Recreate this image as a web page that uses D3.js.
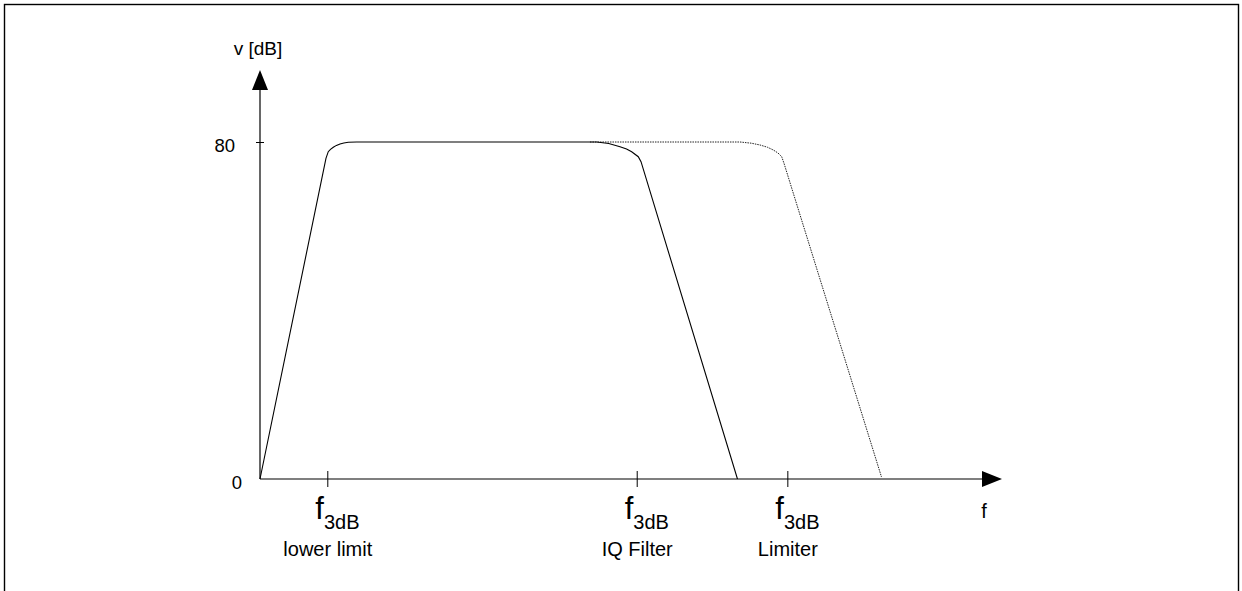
<!DOCTYPE html>
<html>
<head>
<meta charset="utf-8">
<script src="https://cdn.jsdelivr.net/npm/d3@7"></script>
<style>
  html, body { margin: 0; padding: 0; background: #fff; }
  svg { display: block; }
  text { font-family: "Liberation Sans", Arial, sans-serif; fill: #000; }
</style>
</head>
<body>
<div id="chart"></div>
<script>
// ---- data ----
const yTicks = [0, 80];
const xTicks = [9.07, 50.77, 71.07];
const xTickSubLabels = ["lower limit", "IQ Filter", "Limiter"];
const xAxisLabel = "f";
const yAxisLabel = "v [dB]";

// IQ filter response (solid)
const iqFreq = [0, 8.89, 9.20, 9.50, 9.88, 10.30, 10.78, 11.30, 11.90, 13.03, 45.38, 47.0, 48.52, 49.4, 50.09, 50.98, 51.35, 64.35];
const iqGain = [0, 76.13, 77.70, 78.25, 78.74, 79.20, 79.53, 79.78, 79.93, 80, 80, 79.65, 78.88, 78.35, 77.70, 76.51, 75.32, 0];

// Limiter response (dotted)
const limFreq = [44.47, 64.69, 66.2, 67.39, 68.4, 69.18, 69.8, 70.31, 70.62, 83.76];
const limGain = [80, 80, 79.72, 79.29, 78.75, 78.10, 77.40, 76.51, 74.94, 0.47];

const xAxisMax = 100;
const yAxisMax = 97.1;

// ---- layout ----
const W = 1242, H = 591;
const svg = d3.select("#chart").append("svg").attr("width", W).attr("height", H);

svg.append("rect").attr("x", 4.5).attr("y", 4.5).attr("width", 1234).attr("height", 620)
  .attr("fill", "none").attr("stroke", "#000").attr("stroke-width", 1.4);

const x = d3.scaleLinear().domain([0, xAxisMax]).range([260, 1002]);
const y = d3.scaleLinear().domain([0, 80]).range([479, 142]);

const g = svg.append("g");

// axis lines
const arrowLen = 20, arrowHalf = 8;
g.append("line").attr("x1", x(0)).attr("y1", y(0)).attr("x2", x(xAxisMax) - arrowLen).attr("y2", y(0))
  .attr("stroke", "#000").attr("stroke-width", 1.2);
g.append("line").attr("x1", x(0)).attr("y1", y(0)).attr("x2", x(0)).attr("y2", y(yAxisMax) + arrowLen)
  .attr("stroke", "#000").attr("stroke-width", 1.2);
// arrow heads
g.append("path").attr("d", `M${x(xAxisMax)},${y(0)} L${x(xAxisMax) - arrowLen},${y(0) - arrowHalf} L${x(xAxisMax) - arrowLen},${y(0) + arrowHalf} Z`).attr("fill", "#000");
g.append("path").attr("d", `M${x(0)},${y(yAxisMax)} L${x(0) - arrowHalf},${y(yAxisMax) + arrowLen} L${x(0) + arrowHalf},${y(yAxisMax) + arrowLen} Z`).attr("fill", "#000");

// y axis ticks
const yAxis = d3.axisLeft(y).tickValues(yTicks).tickSize(0).tickFormat(d3.format("d"));
const yg = g.append("g").attr("transform", `translate(${x(0)},0)`).call(yAxis);
yg.select(".domain").remove();
yg.selectAll(".tick line").attr("x1", d => d === 0 ? 0 : -4).attr("x2", d => d === 0 ? 0 : 4).attr("stroke", "#000");
yg.selectAll(".tick text")
  .attr("font-size", 18.5).attr("font-family", "Liberation Sans, Arial, sans-serif").attr("fill", "#000")
  .attr("x", d => d === 0 ? -18 : -25).attr("dy", "0.5em");

// x axis ticks
const xAxis = d3.axisBottom(x).tickValues(xTicks).tickSize(0).tickFormat("");
const xg = g.append("g").attr("transform", `translate(0,${y(0)})`).call(xAxis);
xg.select(".domain").remove();
xg.selectAll(".tick line").attr("y1", -8).attr("y2", 8).attr("stroke", "#000");
xg.selectAll(".tick").each(function(d, i) {
  const t = d3.select(this);
  const lab = t.append("text").attr("x", -12.5).attr("y", 39.5).attr("text-anchor", "start")
    .attr("font-family", "Liberation Sans, Arial, sans-serif").attr("fill", "#000");
  lab.append("tspan").attr("font-size", 31).text("f");
  lab.append("tspan").attr("font-size", 20).attr("dy", 10).text("3dB");
  t.append("text").attr("x", 0).attr("y", 76.5).attr("text-anchor", "middle")
    .attr("font-size", 20).attr("font-family", "Liberation Sans, Arial, sans-serif").attr("fill", "#000")
    .text(xTickSubLabels[i]);
});

// axis titles
g.append("text").attr("x", 984).attr("y", 518).attr("text-anchor", "middle").attr("font-size", 20).text(xAxisLabel);
g.append("text").attr("x", 258).attr("y", 55).attr("text-anchor", "middle").attr("font-size", 19).text(yAxisLabel);

// curves
const line = d3.line().x(d => x(d[0])).y(d => y(d[1]));
g.append("path").datum(d3.zip(limFreq, limGain)).attr("d", line)
  .attr("fill", "none").attr("stroke", "#222").attr("stroke-width", 1).attr("stroke-dasharray", "1.5,1");
g.append("path").datum(d3.zip(iqFreq, iqGain)).attr("d", line)
  .attr("fill", "none").attr("stroke", "#000").attr("stroke-width", 1.1);
</script>
</body>
</html>
